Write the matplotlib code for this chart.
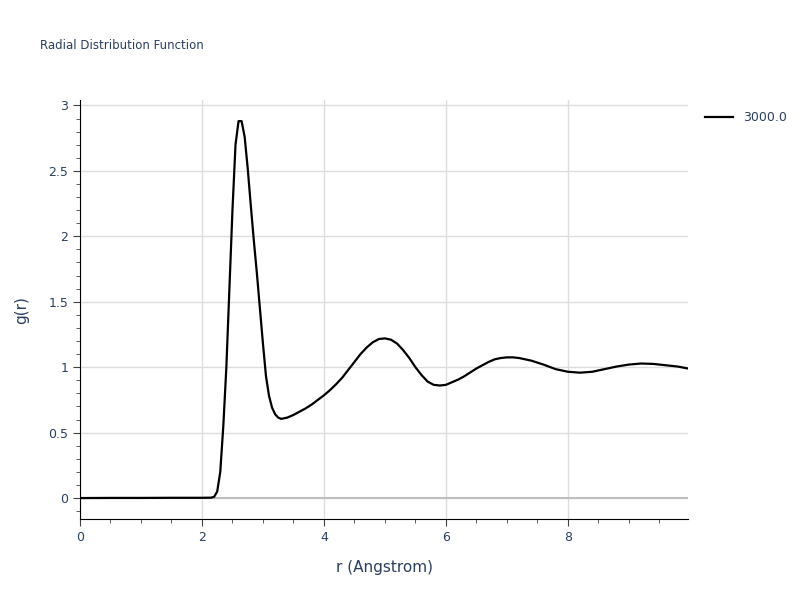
import matplotlib.pyplot as plt
from matplotlib.ticker import MultipleLocator, FuncFormatter

r = [0.0, 0.5, 1.0, 1.5, 2.0, 2.15, 2.2, 2.25, 2.3, 2.35, 2.4, 2.45, 2.5, 2.55, 2.6, 2.65,
     2.7, 2.75, 2.8, 2.85, 2.9, 2.95, 3.0, 3.05, 3.1, 3.15, 3.2, 3.25, 3.3, 3.4, 3.5, 3.6,
     3.7, 3.8, 3.9, 4.0, 4.1, 4.2, 4.3, 4.4, 4.5, 4.6, 4.7, 4.8, 4.9, 5.0, 5.1, 5.2, 5.3,
     5.4, 5.5, 5.6, 5.7, 5.8, 5.9, 6.0, 6.1, 6.2, 6.3, 6.4, 6.5, 6.6, 6.7, 6.8, 6.9, 7.0,
     7.1, 7.2, 7.4, 7.6, 7.8, 8.0, 8.2, 8.4, 8.6, 8.8, 9.0, 9.2, 9.4, 9.6, 9.8, 9.97]
g = [0.0, 0.001, 0.001, 0.002, 0.002, 0.003, 0.01, 0.05, 0.2, 0.55, 1.0, 1.6, 2.2, 2.7, 2.88, 2.88,
     2.76, 2.52, 2.24, 1.97, 1.72, 1.45, 1.18, 0.93, 0.78, 0.69, 0.64, 0.615, 0.605, 0.615, 0.635, 0.66,
     0.685, 0.715, 0.75, 0.785, 0.825, 0.87, 0.92, 0.98, 1.04, 1.10, 1.15, 1.19, 1.215, 1.22, 1.21, 1.18, 1.13,
     1.07, 1.0, 0.94, 0.89, 0.865, 0.86, 0.865, 0.885, 0.905, 0.93, 0.96, 0.99, 1.015, 1.04, 1.06, 1.07, 1.075,
     1.075, 1.07, 1.05, 1.02, 0.985, 0.965, 0.958, 0.965, 0.985, 1.005, 1.02, 1.028, 1.025, 1.015, 1.005, 0.99]
label = '3000.0'

txt = '#2a3f5f'
fig = plt.figure(figsize=(8, 6), dpi=100)
ax = fig.add_axes([0.1, 0.135, 0.76, 0.698])
ax.plot(r, g, color='black', lw=1.6, label=label, zorder=3)
ax.axhline(0, color='#bfbfbf', lw=1.5, zorder=1)

ax.set_xlim(0, 9.97)
ax.set_ylim(-0.16, 3.04)
ax.xaxis.set_major_locator(MultipleLocator(2))
ax.xaxis.set_minor_locator(MultipleLocator(0.5))
ax.yaxis.set_major_locator(MultipleLocator(0.5))
ax.yaxis.set_minor_locator(MultipleLocator(0.1))
ax.yaxis.set_major_formatter(FuncFormatter(lambda v, p: f'{v:g}'))
ax.grid(True, which='major', color='#dcdcdc', lw=1)
ax.set_axisbelow(True)
for s in ['top', 'right']:
    ax.spines[s].set_visible(False)
for s in ['left', 'bottom']:
    ax.spines[s].set_color('black')
ax.tick_params(which='major', length=5, color='#444444', labelcolor=txt, labelsize=9)
ax.tick_params(which='minor', length=3, color='#444444')
ax.set_xlabel('r (Angstrom)', color=txt, fontsize=11, labelpad=12)
ax.set_ylabel('g(r)', color=txt, fontsize=11, labelpad=14)
fig.text(0.05, 0.918, 'Radial Distribution Function', color=txt, fontsize=8.5)
ax.legend(loc='upper left', bbox_to_anchor=(1.01, 1.0), frameon=False, fontsize=9,
          handlelength=2.2, labelcolor=txt)

fig.savefig('out.png')
